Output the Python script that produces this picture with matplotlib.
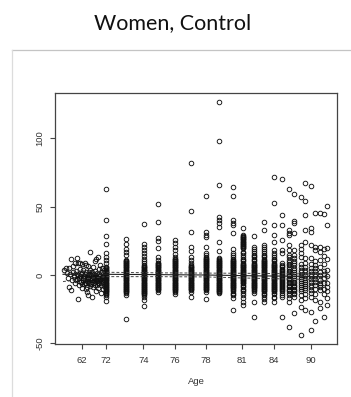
import matplotlib
matplotlib.use("Agg")
import matplotlib.pyplot as plt
from matplotlib.lines import Line2D

# ---- data -------------------------------------------------------------
# position of each age column on the index axis
col_x = [5.1, 7.1, 8.85, 10.33, 11.95, 13.55, 15.1, 16.4, 17.77, 18.8, 19.85, 20.9, 21.9,
         22.7, 23.4, 23.93, 24.55, 25.0, 25.57, 26.0, 26.5, 26.85, 27.2]

# residuals observed in each column
col_y = [
    [63, 40, 28.5, 22.5, 16, 13.4, 11, 8.8, 6, 5.5, 5, 4.5, 4, 3.5, 3, 2.5, 2, 1.5, 1,
     0.5, 0, -0.5, -1, -1.5, -2, -2.5, -3, -3.5, -4, -4.5, -5, -5.5, -6, -6.5, -7, -7.5,
     -8, -8.5, -9, -9.5, -10, -10.5, -11, -11.5, -12, -12.5, -13, -13.8, -14.6, -15.9,
     -18.8],
    [26, 22.7, 18.8, 17, 14.6, 11, 10.5, 10, 9.5, 9, 8.5, 8, 7.5, 7, 6.5, 6, 5.5, 5,
     4.5, 4, 3.5, 3, 2.5, 2, 1.5, 1, 0.5, 0, -0.5, -1, -1.5, -2, -2.5, -3, -3.5, -4,
     -4.5, -5, -5.5, -6, -6.5, -7, -7.5, -8, -8.5, -9, -9.5, -10, -10.5, -11, -11.5,
     -12, -12.7, -13.4, -14.6, -32],
    [37, 22.6, 20.5, 18.5, 16, 14, 12, 10, 8.8, 7, 6.5, 6, 5.5, 5, 4.5, 4, 3.5, 3, 2.5,
     2, 1.5, 1, 0.5, 0, -0.5, -1, -1.5, -2, -2.5, -3, -3.5, -4, -4.5, -5, -5.5, -6,
     -6.5, -7, -7.5, -8, -8.5, -9, -9.5, -10, -10.5, -11, -11.5, -12, -12.5, -13,
     -13.5, -14, -15, -16, -18.3, -23],
    [52, 38.8, 27, 25, 19.5, 13, 11, 9, 8.5, 8, 7.5, 7, 6.5, 6, 5.5, 5, 4.5, 4, 3.5, 3,
     2.5, 2, 1.5, 1, 0.5, 0, -0.5, -1, -1.5, -2, -2.5, -3, -3.5, -4, -4.5, -5, -5.5,
     -6, -6.5, -7, -7.5, -8, -8.5, -9, -9.5, -10, -10.5, -11, -12.2],
    [25.6, 23.4, 20.7, 18, 15.5, 13.4, 12, 11.5, 11, 10.5, 10, 9.5, 9, 8.5, 8, 7.5, 7,
     6.5, 6, 5.5, 5, 4.5, 4, 3.5, 3, 2.5, 2, 1.5, 1, 0.5, 0, -0.5, -1, -1.5, -2, -2.5,
     -3, -3.5, -4, -4.5, -5, -5.5, -6, -6.5, -7, -7.5, -8, -8.5, -9, -9.5, -10, -10.5,
     -11, -11.5, -12.2, -14],
    [81.8, 46.8, 31.2, 20.7, 17.8, 13.4, 11, 8.8, 7.3, 6.5, 6, 5.5, 5, 4.5, 4, 3.5, 3,
     2.5, 2, 1.5, 1, 0.5, 0, -0.5, -1, -1.5, -2, -2.5, -3, -3.5, -4, -4.5, -5, -5.5, -6,
     -6.5, -7, -7.5, -8, -8.5, -9, -9.5, -10, -10.5, -11, -12.2, -16.3],
    [57.8, 31.5, 29.5, 27.8, 20.3, 16, 14.5, 13.4, 12.5, 12, 11.5, 11, 10.5, 10, 9.5, 9,
     8.5, 8, 7.5, 7, 6.5, 6, 5.5, 5, 4.5, 4, 3.5, 3, 2.5, 2, 1.5, 1, 0.5, 0, -0.5, -1,
     -1.5, -2, -2.5, -3, -3.5, -4, -4.5, -5, -5.5, -6, -6.5, -7, -7.5, -8, -8.5, -9,
     -9.5, -10, -10.5, -11, -12.2, -17.8],
    [126.6, 98, 65.9, 42.5, 40, 38, 35, 24, 17.8, 12.2, 11.5, 11, 10.5, 10, 9.5, 9, 8.5,
     8, 7.5, 7, 6.5, 6, 5.5, 5, 4.5, 4, 3.5, 3, 2.5, 2, 1.5, 1, 0.5, 0, -0.5, -1, -1.5,
     -2, -2.5, -3, -3.5, -4, -4.5, -5, -5.5, -6, -6.5, -7, -7.5, -8, -8.5, -9, -9.5,
     -10, -10.5, -11, -11.5, -12, -12.7, -13.4],
    [64.2, 57.8, 40, 38, 36.6, 31, 18.8, 15.9, 14.5, 13, 12, 11, 10.5, 10, 9.5, 9, 8.5,
     8, 7.5, 7, 6.5, 6, 5.5, 5, 4.5, 4, 3.5, 3, 2.5, 2, 1.5, 1, 0.5, 0, -0.5, -1, -1.5,
     -2, -2.5, -3, -3.5, -4, -4.5, -5, -5.5, -6, -6.5, -7, -7.5, -8, -8.5, -9, -9.5,
     -10, -11, -12, -13, -14, -15, -17, -25.6],
    [34.6, 29.3, 28.5, 28, 27.5, 27, 26.5, 26, 25.5, 25, 24.5, 24, 23.5, 23, 22.5, 22,
     21.5, 21, 20.5, 20, 19.5, 17, 15.9, 14.5, 13, 12, 11, 10, 9, 8, 7.5, 7, 6.5, 6,
     5.5, 5, 4.5, 4, 3.5, 3, 2.5, 2, 1.5, 1, 0.5, 0, -0.5, -1, -1.5, -2, -2.5, -3, -3.5,
     -4, -4.5, -5, -5.5, -6, -7, -8, -9, -10, -11, -12, -13, -14.6, -17, -19.5, -22],
    [28.8, 20.7, 19, 17.5, 16, 15, 14, 13, 12, 11, 10, 9, 8, 7.5, 7, 6.5, 6, 5.5, 5, 4.5,
     4, 3.5, 3, 2.5, 2, 1.5, 1, 0.5, 0, -0.5, -1, -1.5, -2, -2.5, -3, -3.5, -4, -4.5,
     -5, -5.5, -6, -6.5, -7, -7.5, -8, -8.5, -9, -9.5, -10, -11, -12, -13.4, -20,
     -30.5],
    [38.6, 33, 22, 20.5, 19, 17.5, 16, 15, 14, 13, 12, 11, 10.5, 10, 9.5, 9, 8.5, 8, 7.5,
     7, 6.5, 6, 5.5, 5, 4.5, 4, 3.5, 3, 2.5, 2, 1.5, 1, 0.5, 0, -0.5, -1, -1.5, -2,
     -2.5, -3, -3.5, -4, -4.5, -5, -5.5, -6, -6.5, -7, -7.5, -8, -8.5, -9, -9.5, -10,
     -10.5, -11, -11.5, -12, -13, -14, -15, -16, -17.5, -19.5],
    [72, 52.5, 36.6, 29.3, 24.4, 18, 15.9, 14.5, 13, 12, 11, 10, 9, 8, 7.5, 7, 6.5, 6,
     5.5, 5, 4.5, 4, 3.5, 3, 2.5, 2, 1.5, 1, 0.5, 0, -0.5, -1, -1.5, -2, -2.5, -3, -3.5,
     -4, -4.5, -5, -5.5, -6, -6.5, -7, -7.5, -8, -8.5, -9, -9.5, -10, -10.5, -11,
     -11.5, -12, -13, -14, -15.9, -17, -19.5],
    [70, 44, 36.6, 25.6, 18.3, 16, 8.8, 7.5, 6.5, 5.5, 4.5, 4, 3, 2.5, 1.5, 1, 0, -0.5,
     -1.5, -2, -3, -3.5, -4.5, -5, -6, -6.5, -7.5, -8, -9, -9.5, -10.5, -11, -12, -13,
     -14.5, -16, -30.5],
    [62.7, 33, 31, 29.3, 22, 18.3, 15, 13, 11, 9.5, 8, 7, 6, 4.5, 3, 2, 1, 0, -1, -2, -3,
     -4, -5, -6, -7, -8, -9, -10, -11, -12, -13, -15, -17, -19.5, -38.3],
    [59.3, 39.5, 38, 31, 18.3, 15, 12.4, 10.5, 9, 7, 5, 3.5, 2, 0.5, -1, -2.5, -4, -5,
     -6, -7, -8, -9, -10, -11, -12, -13, -14, -16, -27.6],
    [57.3, 22, 19, 16, 13.4, 8, 5.5, 4, 2, 0, -1.5, -3, -4.5, -6, -7.5, -9, -10.5, -12,
     -15, -18, -23.2, -44],
    [67.6, 54.4, 44, 33, 24.4, 12.2, 9, 6, 4, 2, 0, -2, -3.5, -5, -6.5, -8, -9.5, -11,
     -14, -17, -25.6],
    [65.2, 34.4, 31.7, 22, 12.2, 8, 5, 3, 1, -1, -3, -5, -7, -9, -11, -13, -16, -26.8,
     -40],
    [45.6, 20.7, 18.3, 10, 7, 5, 3, 1, -1, -3, -5, -7, -10, -14, -18, -33.4],
    [45.2, 20.7, 17, 11, 6, 2, 0, -3.7, -5.5, -7, -9, -11, -20, -24],
    [44.7, 19, 14, 8, 3, 0.5, -2, -6, -10, -14, -30.5],
    [50.5, 36.6, 20, 12, 3.7, -1, -6, -9, -12, -17, -22],
]

# youngest ages: spread along the axis
young_x = [0.9, 1.1, 1.2, 1.3, 1.4, 1.4, 1.5, 1.6, 1.6, 1.7, 1.8, 1.8, 1.9, 2.0, 2.0,
           2.1, 2.2, 2.2, 2.3, 2.3, 2.3, 2.4, 2.5, 2.5, 2.5, 2.6, 2.7, 2.7, 2.7, 2.8,
           2.8, 2.9, 3.0, 3.0, 3.0, 3.1, 3.1, 3.1, 3.2, 3.2, 3.3, 3.3, 3.3, 3.4, 3.4,
           3.5, 3.5, 3.5, 3.6, 3.6, 3.7, 3.7, 3.7, 3.8, 3.8, 3.8, 3.9, 3.9, 4.0, 4.0,
           4.0, 4.1, 4.1, 4.1, 4.2, 4.2, 4.3, 4.3, 4.3, 4.4, 4.4, 4.5, 4.5, 4.5, 4.6,
           4.6, 4.6, 4.7, 4.7, 4.8, 4.8, 4.8, 4.9, 4.9, 4.9,
           2.4, 2.6, 2.9, 3.2, 3.4, 3.6, 3.9, 4.2, 4.4, 4.7, 2.2, 2.8, 3.3, 3.8, 4.3,
           2.1, 2.6, 3.0, 3.5, 3.9, 4.4, 4.6, 2.9, 3.4, 4.0, 4.5, 3.1, 3.6, 4.2, 4.8,
           1.9, 2.4, 2.7, 3.3, 3.7, 4.1, 4.5, 4.9, 3.2, 4.0]
young_y = [3.7, 4.9, 1.5, -2.0, 5.4, -8.6, 0.5, -11.0, 11.7, -4.0, 6.3, 2.0, -1.5, 8.6,
           -6.0, 3.0, 12.7, -3.0, 8.6, 0.0, -17.6, -7.5, 9.0, 4.5, -1.0, -5.0, 7.8,
           -9.7, 1.5, -2.5, 3.5, -6.5, 9.0, 0.5, -4.0, 7.3, -10.5, 2.5, -1.5, -12.2,
           6.3, -14.6, -3.0, 1.0, -6.0, 16.6, 4.0, -8.0, -0.5, -2.0, -15.9, 2.0, -5.0,
           5.5, -9.0, -1.0, 0.5, -3.5, 10.0, -7.0, 3.0, 11.4, -11.5, -0.5, -4.5, 1.5,
           13.4, -2.5, -9.5, 4.5, -6.0, 7.5, 0.0, -3.0, -13.0, 2.5, -7.5, -1.5, 5.0,
           -5.0, -10.0, 1.0, -2.0, 3.5, -8.0,
           -2.0, 0.5, -1.0, -4.5, 2.5, -6.5, -2.5, -4.0, 0.5, -3.5, 1.0, -3.5, -2.0,
           -0.8, -5.5,
           -3.5, -2.5, -5.5, -3.0, -5.5, -1.0, -5.5, -1.5, -0.5, -1.5, -4.0, -6.0, 0.0,
           -7.0, -3.0, 0.0, -4.5, -6.5, 0.0, -3.8, -3.0, -2.0, -0.5, -8.5, -2.5]

# fitted mean with its 95% band
fit_x = [0.8, 5, 10, 15, 20, 25, 27.3]
fit_mid = [0.5, 0.5, 0.3, 0.0, -0.6, -1.0, -1.3]
fit_hi = [3.8, 2.0, 1.6, 1.4, 1.2, 0.8, 1.0]
fit_lo = [-4.8, -1.2, -1.2, -1.4, -2.4, -3.2, -3.9]

tick_pos = [2.67, 5.1, 8.83, 12.0, 15.1, 18.7, 21.9, 25.6]
tick_lab = ["62", "72", "74", "76", "78", "81", "84", "90"]
ytick_pos = [-50, 0, 50, 100]

# ---- figure -----------------------------------------------------------
fig = plt.figure(figsize=(3.51, 3.97), dpi=100)
fig.patch.set_facecolor("white")

fig.text(0.493, 0.942, "Women, Control", ha="center", va="center",
         fontsize=15.5, family="Lato", color="#111111")

# slide frame
fig.add_artist(Line2D([12 / 351, 1.0], [1 - 50 / 397, 1 - 50 / 397],
                      transform=fig.transFigure, color="#c4c4c4", lw=0.9))
fig.add_artist(Line2D([12 / 351, 12 / 351], [0.0, 1 - 50 / 397],
                      transform=fig.transFigure, color="#dcdcdc", lw=0.9))

ax = fig.add_axes([55 / 351, 1 - 344 / 397, (337 - 55) / 351, (344 - 93) / 397])

mk = dict(linestyle="none", marker="o", markersize=3.3, markerfacecolor="none",
          markeredgecolor="#111111", markeredgewidth=0.65)
ax.plot(young_x, young_y, **mk)
for xv, ys in zip(col_x, col_y):
    ax.plot([xv] * len(ys), ys, **mk)

ax.plot(fit_x, fit_mid, color="#222222", lw=0.8)
ax.plot(fit_x, fit_hi, color="#444444", lw=0.7, ls=(0, (3, 2)))
ax.plot(fit_x, fit_lo, color="#444444", lw=0.7, ls=(0, (3, 2)))

ax.set_xlim(0, 28.2)
ax.set_ylim(-50.5, 133.2)
ax.set_xticks(tick_pos)
ax.set_xticklabels(tick_lab)
ax.set_yticks(ytick_pos)
ax.set_yticklabels([str(v) for v in ytick_pos], rotation=90, va="center")
for s in ax.spines.values():
    s.set_color("#444444")
    s.set_linewidth(0.9)
ax.tick_params(axis="both", length=3.6, width=0.8, color="#444444",
               labelsize=6.8, labelcolor="#333333")
ax.tick_params(axis="x", pad=5)
ax.tick_params(axis="y", pad=4)
for lab in ax.get_xticklabels() + ax.get_yticklabels():
    lab.set_family("Liberation Sans")
ax.set_xlabel("Age", fontsize=6.8, family="Liberation Sans", color="#333333",
              labelpad=9)

fig.savefig("out.png", dpi=100)
